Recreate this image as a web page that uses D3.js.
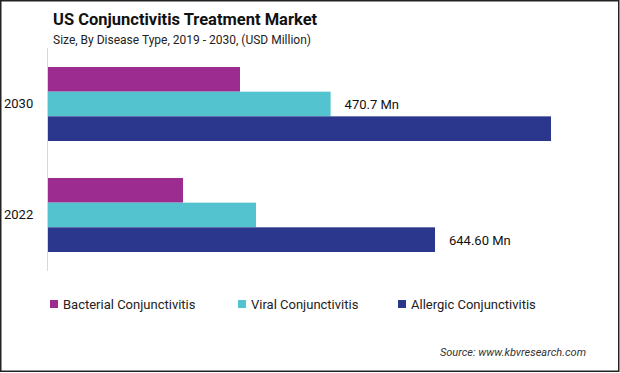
<!DOCTYPE html>
<html><head><meta charset="utf-8">
<script src="https://cdn.jsdelivr.net/npm/d3@7"></script>
<style>body{margin:0;background:#fff}svg{display:block}</style>
</head><body>
<script>
const years = ["2030", "2022"];
const seriesNames = ["Bacterial Conjunctivitis", "Viral Conjunctivitis", "Allergic Conjunctivitis"];
const bacterial = [319.8, 224.9];
const viral = [470.7, 346.4];
const allergic = [837.8, 644.6];
const colors = ["#9c2c8f", "#52c3cf", "#2b378c"];
const valueLabels = [{year:"2030", series:1, text:"470.7 Mn"}, {year:"2022", series:2, text:"644.60 Mn"}];

const W = 620, H = 373;
const svg = d3.select("body").append("svg").attr("width", W).attr("height", H);
svg.append("rect").attr("x",0.75).attr("y",0.75).attr("width",W-2).attr("height",H-2.5)
  .attr("fill","#fff").attr("stroke","#222").attr("stroke-width",1.5);

const font = "Roboto, 'Open Sans', sans-serif";
svg.append("text").attr("x",53).attr("y",25).attr("font-family",font).attr("font-weight","bold")
  .attr("font-size",16.5).attr("fill","#111").text("US Conjunctivitis Treatment Market");
svg.append("text").attr("x",53).attr("y",44).attr("font-family",font)
  .attr("font-size",12).attr("fill","#222").text("Size, By Disease Type, 2019 - 2030, (USD Million)");

const x = d3.scaleLinear().domain([0, 1000]).range([48, 48 + 1000/1.6656]);
const y0 = d3.scaleBand().domain(years).range([67, 252]).paddingInner(0.333).paddingOuter(0);
const y1 = d3.scaleBand().domain([0,1,2]).range([0, y0.bandwidth()]);

const data = years.map((yr,i)=>({year:yr, vals:[bacterial[i], viral[i], allergic[i]]}));
const g = svg.append("g");
data.forEach(d=>{
  d.vals.forEach((v,j)=>{
    g.append("rect").attr("x",x(0)).attr("y",y0(d.year)+y1(j))
      .attr("width",x(v)-x(0)).attr("height",y1.bandwidth()).attr("fill",colors[j]);
  });
});
svg.append("line").attr("x1",47.5).attr("x2",47.5).attr("y1",48).attr("y2",271)
  .attr("stroke","#d9d9d9").attr("stroke-width",1);

years.forEach(yr=>{
  svg.append("text").attr("x",4).attr("y",y0(yr)+y0.bandwidth()/2+4).attr("font-family",font)
    .attr("font-size",13).attr("fill","#111").text(yr);
});
valueLabels.forEach(l=>{
  const i = years.indexOf(l.year);
  const v = [bacterial, viral, allergic][l.series][i];
  svg.append("text").attr("x",x(v)+14).attr("y",y0(l.year)+y1(l.series)+y1.bandwidth()/2+5)
    .attr("font-family",font).attr("font-size",13).attr("fill","#111").text(l.text);
});

const legX = [50, 238, 398];
seriesNames.forEach((n,j)=>{
  svg.append("rect").attr("x",legX[j]).attr("y",300).attr("width",8).attr("height",8).attr("fill",colors[j]);
  svg.append("text").attr("x",legX[j]+13).attr("y",308.5).attr("font-family",font)
    .attr("font-size",13).attr("fill","#222").text(n);
});
svg.append("text").attr("x",586).attr("y",356).attr("text-anchor","end").attr("font-family",font)
  .attr("font-style","italic").attr("font-size",11).attr("fill","#333").text("Source: www.kbvresearch.com");
</script>
</body></html>
